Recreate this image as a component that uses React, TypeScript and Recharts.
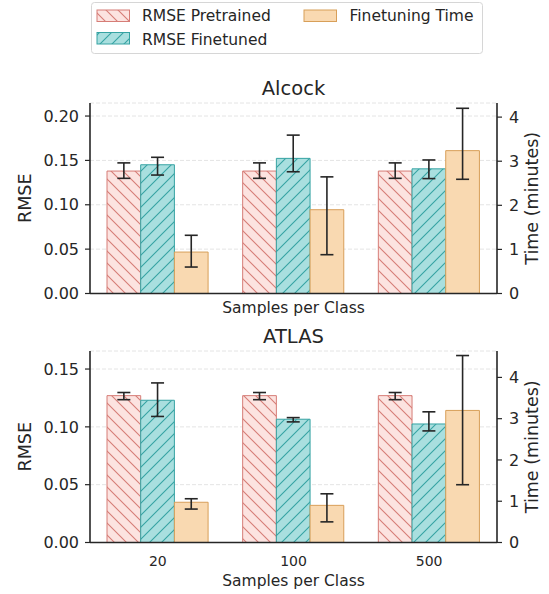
import React from 'react';
import { BarChart, Bar, XAxis, YAxis, CartesianGrid, ErrorBar } from 'recharts';

const classes = ['20', '100', '500'];

// Alcock
const alcockPretrained = [0.138, 0.138, 0.138];
const alcockPretrainedLow = [0.1298, 0.1298, 0.1298];
const alcockPretrainedHigh = [0.1472, 0.1472, 0.1472];
const alcockFinetuned = [0.1451, 0.1523, 0.1405];
const alcockFinetunedLow = [0.1335, 0.1372, 0.1295];
const alcockFinetunedHigh = [0.1535, 0.1785, 0.1505];
const alcockTime = [0.94, 1.9, 3.24];
const alcockTimeLow = [0.6, 0.88, 2.59];
const alcockTimeHigh = [1.32, 2.645, 4.2];

// ATLAS
const atlasPretrained = [0.127, 0.127, 0.127];
const atlasPretrainedLow = [0.1235, 0.1235, 0.1235];
const atlasPretrainedHigh = [0.1297, 0.1297, 0.1297];
const atlasFinetuned = [0.123, 0.1066, 0.1025];
const atlasFinetunedLow = [0.109, 0.1043, 0.0965];
const atlasFinetunedHigh = [0.138, 0.108, 0.113];
const atlasTime = [0.975, 0.9, 3.2];
const atlasTimeLow = [0.81, 0.5, 1.4];
const atlasTimeHigh = [1.06, 1.18, 4.53];

const alcockRmseTicks = [0, 0.05, 0.1, 0.15, 0.2];
const atlasRmseTicks = [0, 0.05, 0.1, 0.15];
const timeTicks = [0, 1, 2, 3, 4];

const INK = '#262626';
const FONT = 'DejaVu Sans';
const PRE_FILL = '#fce3e0';
const PRE_EDGE = '#d67d77';
const FIN_FILL = '#a9dfdf';
const FIN_EDGE = '#36a3a3';
const TIME_FILL = '#f9d9b1';
const TIME_EDGE = '#d89f59';

// plot frame, shared by both panels
const PLOT_LEFT = 90;
const PLOT_RIGHT = 497;

function buildRows(
  pre: number[], preLow: number[], preHigh: number[],
  fin: number[], finLow: number[], finHigh: number[],
  time: number[], timeLow: number[], timeHigh: number[],
) {
  return classes.map((cls, i) => ({
    cls,
    pre: pre[i],
    preErr: [pre[i] - preLow[i], preHigh[i] - pre[i]],
    fin: fin[i],
    finErr: [fin[i] - finLow[i], finHigh[i] - fin[i]],
    time: time[i],
    timeErr: [time[i] - timeLow[i], timeHigh[i] - time[i]],
  }));
}

const alcockRows = buildRows(
  alcockPretrained, alcockPretrainedLow, alcockPretrainedHigh,
  alcockFinetuned, alcockFinetunedLow, alcockFinetunedHigh,
  alcockTime, alcockTimeLow, alcockTimeHigh,
);
const atlasRows = buildRows(
  atlasPretrained, atlasPretrainedLow, atlasPretrainedHigh,
  atlasFinetuned, atlasFinetunedLow, atlasFinetunedHigh,
  atlasTime, atlasTimeLow, atlasTimeHigh,
);

// hatch fills shared by the bars and the legend
function HatchDefs() {
  return (
    <svg width={0} height={0} style={{ position: 'absolute' }}>
      <defs>
        <pattern id="hatch-pre" patternUnits="userSpaceOnUse" width={12} height={12}>
          <rect width={12} height={12} fill={PRE_FILL} />
          <path d="M-1,-1 L13,13 M-1,11 L1,13 M11,-1 L13,1" stroke={PRE_EDGE} strokeWidth={1.1} />
        </pattern>
        <pattern id="hatch-fin" patternUnits="userSpaceOnUse" width={12} height={12}>
          <rect width={12} height={12} fill={FIN_FILL} />
          <path d="M-1,13 L13,-1 M-1,1 L1,-1 M11,13 L13,11" stroke={FIN_EDGE} strokeWidth={1.1} />
        </pattern>
      </defs>
    </svg>
  );
}

function SideTitle(props: any) {
  const { viewBox, text, cx } = props;
  const cy = viewBox ? viewBox.y + viewBox.height / 2 : 0;
  return (
    <text
      transform={`translate(${cx},${cy}) rotate(-90)`}
      textAnchor="middle"
      dominantBaseline="central"
      fontFamily={FONT}
      fontSize={17.5}
      fill={INK}
    >
      {text}
    </text>
  );
}

type PanelProps = {
  title: string;
  rows: any[];
  top: number;
  marginTop: number;
  plotHeight: number;
  xAxisHeight: number;
  showXTicks: boolean;
  xLabelOffset: number;
  rmseMax: number;
  rmseTicks: number[];
  timeMax: number;
};

function Panel(p: PanelProps) {
  const height = p.marginTop + p.plotHeight + p.xAxisHeight;
  const errStyle = { stroke: INK, strokeWidth: 1.6, width: 6.5 };
  return (
    <div style={{ position: 'absolute', left: 0, top: p.top }}>
      <BarChart
        width={549}
        height={height}
        data={p.rows}
        margin={{ top: p.marginTop, right: 0, bottom: 0, left: 0 }}
        barGap={0}
        barSize={33.7}
      >
        <CartesianGrid
          yAxisId="rmse"
          vertical={false}
          stroke="#e4e4e4"
          strokeDasharray="4 2"
        />
        <XAxis
          dataKey="cls"
          height={p.xAxisHeight}
          axisLine={{ stroke: INK, strokeWidth: 1.6 }}
          tickLine={false}
          tickSize={0}
          tickMargin={13.7}
          tick={p.showXTicks ? { fill: INK, fontSize: 14, fontFamily: FONT } : false}
          label={{
            value: 'Samples per Class',
            position: 'insideBottom',
            offset: p.xLabelOffset,
            fill: INK,
            fontSize: 15.5,
            fontFamily: FONT,
          }}
        />
        <XAxis
          xAxisId="frame"
          dataKey="cls"
          orientation="top"
          height={0}
          tick={false}
          tickLine={false}
          axisLine={{ stroke: INK, strokeWidth: 1.6 }}
        />
        <YAxis
          yAxisId="rmse"
          orientation="left"
          width={PLOT_LEFT}
          domain={[0, p.rmseMax]}
          ticks={p.rmseTicks}
          tickFormatter={(v: number) => v.toFixed(2)}
          allowDataOverflow
          axisLine={{ stroke: INK, strokeWidth: 1.6 }}
          tickLine={{ stroke: INK, strokeWidth: 1.2 }}
          tickSize={5}
          tickMargin={6}
          tick={{ fill: INK, fontSize: 16, fontFamily: FONT }}
          label={<SideTitle text="RMSE" cx={25} />}
        />
        <YAxis
          yAxisId="time"
          orientation="right"
          width={549 - PLOT_RIGHT}
          domain={[0, p.timeMax]}
          ticks={timeTicks}
          allowDataOverflow
          axisLine={{ stroke: INK, strokeWidth: 1.6 }}
          tickLine={{ stroke: INK, strokeWidth: 1.2 }}
          tickSize={5}
          tickMargin={7}
          tick={{ fill: INK, fontSize: 16, fontFamily: FONT }}
          label={<SideTitle text="Time (minutes)" cx={532} />}
        />
        <Bar
          yAxisId="rmse"
          dataKey="pre"
          name="RMSE Pretrained"
          fill="url(#hatch-pre)"
          stroke={PRE_EDGE}
          strokeWidth={1}
          isAnimationActive={false}
        >
          <ErrorBar dataKey="preErr" direction="y" {...errStyle} />
        </Bar>
        <Bar
          yAxisId="rmse"
          dataKey="fin"
          name="RMSE Finetuned"
          fill="url(#hatch-fin)"
          stroke={FIN_EDGE}
          strokeWidth={1}
          isAnimationActive={false}
        >
          <ErrorBar dataKey="finErr" direction="y" {...errStyle} />
        </Bar>
        <Bar
          yAxisId="time"
          dataKey="time"
          name="Finetuning Time"
          fill={TIME_FILL}
          stroke={TIME_EDGE}
          strokeWidth={1}
          isAnimationActive={false}
        >
          <ErrorBar dataKey="timeErr" direction="y" {...errStyle} />
        </Bar>
      </BarChart>
      <svg
        width={549}
        height={p.marginTop}
        style={{ position: 'absolute', left: 0, top: 0, pointerEvents: 'none' }}
      >
        <text
          x={(PLOT_LEFT + PLOT_RIGHT) / 2}
          y={p.marginTop - 8}
          textAnchor="middle"
          fontFamily={FONT}
          fontSize={19.5}
          fill={INK}
        >
          {p.title}
        </text>
      </svg>
    </div>
  );
}

function LegendBox() {
  const text = { fontFamily: FONT, fontSize: 15.5, fill: INK };
  return (
    <svg width={549} height={58} style={{ position: 'absolute', left: 0, top: 0 }}>
      <rect x={91.5} y={2.5} width={391} height={51} rx={3} fill="#fff" stroke="#d6d6d6" strokeWidth={1} />
      <rect x={97} y={10} width={32.5} height={11.5} fill="url(#hatch-pre)" stroke={PRE_EDGE} strokeWidth={1} />
      <text x={142} y={21.4} {...text}>RMSE Pretrained</text>
      <rect x={97} y={32.5} width={32.5} height={11.5} fill="url(#hatch-fin)" stroke={FIN_EDGE} strokeWidth={1} />
      <text x={142} y={44.7} {...text}>RMSE Finetuned</text>
      <rect x={304} y={10} width={32.5} height={11.5} fill={TIME_FILL} stroke={TIME_EDGE} strokeWidth={1} />
      <text x={349.5} y={21.4} {...text}>Finetuning Time</text>
    </svg>
  );
}

export default function App() {
  return (
    <div
      style={{
        position: 'absolute',
        left: 0,
        top: 0,
        width: 549,
        height: 594,
        background: '#fff',
        overflow: 'hidden',
        fontFamily: FONT,
      }}
    >
      <HatchDefs />
      <LegendBox />
      <Panel
        title="Alcock"
        rows={alcockRows}
        top={60}
        marginTop={43}
        plotHeight={190.5}
        xAxisHeight={30}
        showXTicks={false}
        xLabelOffset={10.5}
        rmseMax={0.2147}
        rmseTicks={alcockRmseTicks}
        timeMax={4.32}
      />
      <Panel
        title="ATLAS"
        rows={atlasRows}
        top={320}
        marginTop={31}
        plotHeight={191.5}
        xAxisHeight={52}
        showXTicks={true}
        xLabelOffset={8.5}
        rmseMax={0.1656}
        rmseTicks={atlasRmseTicks}
        timeMax={4.64}
      />
    </div>
  );
}
